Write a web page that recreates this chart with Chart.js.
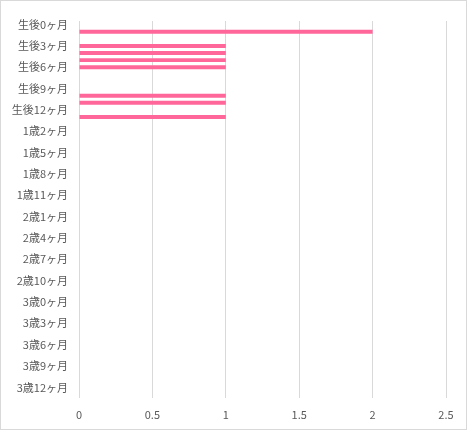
<!DOCTYPE html>
<html>
<head>
<meta charset="utf-8">
<script src="https://cdn.jsdelivr.net/npm/chart.js@4"></script>
<style>
html,body{margin:0;padding:0;background:#fff;}
canvas{display:block;}
</style>
</head>
<body>
<canvas id="c" width="468" height="431"></canvas>
<script>
const categories = [
  "生後0ヶ月","生後1ヶ月","生後2ヶ月","生後3ヶ月","生後4ヶ月","生後5ヶ月","生後6ヶ月","生後7ヶ月","生後8ヶ月","生後9ヶ月","生後10ヶ月","生後11ヶ月","生後12ヶ月",
  "1歳0ヶ月","1歳1ヶ月","1歳2ヶ月","1歳3ヶ月","1歳4ヶ月","1歳5ヶ月","1歳6ヶ月","1歳7ヶ月","1歳8ヶ月","1歳9ヶ月","1歳10ヶ月","1歳11ヶ月","1歳12ヶ月",
  "2歳0ヶ月","2歳1ヶ月","2歳2ヶ月","2歳3ヶ月","2歳4ヶ月","2歳5ヶ月","2歳6ヶ月","2歳7ヶ月","2歳8ヶ月","2歳9ヶ月","2歳10ヶ月","2歳11ヶ月","2歳12ヶ月",
  "3歳0ヶ月","3歳1ヶ月","3歳2ヶ月","3歳3ヶ月","3歳4ヶ月","3歳5ヶ月","3歳6ヶ月","3歳7ヶ月","3歳8ヶ月","3歳9ヶ月","3歳10ヶ月","3歳11ヶ月","3歳12ヶ月",
  "4歳0ヶ月"
];
const counts = [
  0,2,0,1,1,1,1,0,0,0,1,1,0,
  1,0,0,0,0,0,0,0,0,0,0,0,0,
  0,0,0,0,0,0,0,0,0,0,0,0,0,
  0,0,0,0,0,0,0,0,0,0,0,0,0,
  0
];
const xTicks = [0, 0.5, 1, 1.5, 2, 2.5];
const xTickLabels = ["0", "0.5", "1", "1.5", "2", "2.5"];
const labelEvery = 3;

const borderPlugin = {
  id: 'frame',
  afterDraw(chart) {
    const ctx = chart.ctx;
    ctx.save();
    ctx.strokeStyle = '#d9d9d9';
    ctx.lineWidth = 1;
    ctx.strokeRect(0.5, 0.5, 466, 429);
    ctx.restore();
  }
};

Chart.defaults.font.family = '"Noto Sans CJK JP", "Noto Sans", sans-serif';
Chart.defaults.color = '#595959';

new Chart(document.getElementById('c'), {
  type: 'bar',
  data: {
    labels: categories,
    datasets: [{
      data: counts,
      backgroundColor: '#FF6699',
      borderWidth: 0,
      categoryPercentage: 1,
      barPercentage: 0.56
    }]
  },
  options: {
    indexAxis: 'y',
    responsive: false,
    animation: false,
    devicePixelRatio: 1,
    layout: { padding: { top: 21, right: 22, bottom: 0, left: 0 } },
    plugins: { legend: { display: false }, tooltip: { enabled: false } },
    scales: {
      x: {
        min: 0, max: 2.5,
        afterBuildTicks(scale) { scale.ticks = xTicks.map(v => ({ value: v })); },
        afterFit(scale) { scale.height = 33; },
        grid: { color: '#d9d9d9', drawTicks: false },
        border: { display: false },
        ticks: {
          padding: 10, font: { size: 11 }, color: '#595959',
          callback(v, i) { return xTickLabels[i]; }
        }
      },
      y: {
        afterFit(scale) { scale.width = 79; },
        grid: { display: false, drawTicks: false },
        border: { display: false },
        ticks: {
          autoSkip: false,
          padding: 11,
          font: { size: 11 },
          color: '#595959',
          callback(v, i) { return i % labelEvery === 0 ? categories[i] : null; }
        }
      }
    }
  },
  plugins: [borderPlugin]
});
</script>
</body>
</html>
